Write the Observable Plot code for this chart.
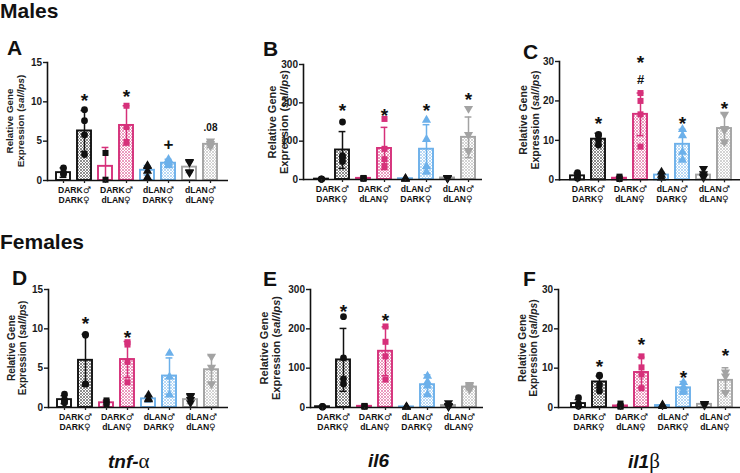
<!DOCTYPE html>
<html><head><meta charset="utf-8">
<script src="https://cdn.jsdelivr.net/npm/d3@7"></script>
<script src="https://cdn.jsdelivr.net/npm/@observablehq/plot@0.6"></script>
<style>
@font-face{font-family:"SexSym";src:local("DejaVu Sans");font-weight:bold;unicode-range:U+2640,U+2642;}
@font-face{font-family:"SexSym";src:local("DejaVu Sans");font-weight:normal;unicode-range:U+2640,U+2642;}
body{margin:0;background:#fff;font-family:"Liberation Sans",Arial,sans-serif;}
#root{position:relative;width:740px;height:473px;overflow:hidden;background:#fff;}
.abs{position:absolute;white-space:nowrap;line-height:1;}
.big{font-weight:bold;font-size:21px;color:#111;}
.gene{font-weight:bold;font-style:italic;font-size:19px;color:#111;}
.greek{font-family:"Liberation Serif","DejaVu Serif",serif;font-style:normal;font-weight:normal;font-size:21px;}
.ylab{position:absolute;white-space:nowrap;text-align:center;font-weight:bold;line-height:1.1;color:#222;transform:translate(-50%,-50%) rotate(-90deg);}
</style></head>
<body><div id="root"></div>
<script>
// ---------- categories ----------
const groups = ["DD", "Dd", "dD", "dd"];
const sireLabels = ["DARK♂", "DARK♂", "dLAN♂", "dLAN♂"];
const damLabels = ["DARK♀", "dLAN♀", "DARK♀", "dLAN♀"];
const treatments = ["sal", "lps"];
const groupColors = ["#111111", "#d6307a", "#6cb0ea", "#a3a3a3"];
const groupSymbols = ["circle", "square", "triangle", "triangle"];
const groupRotate = [0, 0, 0, 180];

// ---------- A: tnf-α males ----------
const aTicks = [0, 5, 10, 15];
const aMeans = [1.0, 6.3, 1.8, 7.0, 1.3, 2.2, 1.7, 4.6];
const aSD = [0.6, 2.6, 2.4, 2.5, 0.6, 0.5, 0.7, 0.4];
const aPoints = [[1.6, 0.8, 1.0], [9.0, 7.6, 5.8, 3.3], [3.5, 0.1], [9.5, 6.8, 4.9],
  [1.8, 1.9, 1.2, 0.4], [2.7, 2.3, 2.0, 1.9], [2.4, 2.3, 1.1, 1.0], [5.0, 4.7, 4.5, 4.4]];
const aSigBar = [1, 3, 5, 7];
const aSigText = ["*", "*", "+", ".08"];
const aSigY = [10.8, 11.2, 4.6, 6.7];

// ---------- B: il6 males ----------
const bTicks = [0, 100, 200, 300];
const bMeans = [1, 77, 3, 81, 2, 79, 4, 110];
const bSD = [1, 48, 2, 55, 1, 64, 2, 53];
const bPoints = [[1, 0.5, 1.5, 1], [150, 62, 47, 57], [3, 2, 4], [158, 80, 53, 35],
  [2, 1, 3], [155, 105, 34, 20], [4, 5, 3], [185, 117, 75, 75]];
const bSigBar = [1, 3, 5, 7];
const bSigText = ["*", "*", "*", "*"];
const bSigY = [191, 180, 191, 220];

// ---------- C: il1β males ----------
const cTicks = [0, 10, 20, 30];
const cMeans = [1.0, 10.3, 0.4, 16.6, 1.2, 9.0, 1.2, 13.0];
const cSD = [0.7, 1.5, 0.3, 5.4, 0.8, 3.8, 0.9, 3.8];
const cPoints = [[1.8, 1.2, 0.5, 0.4], [11.5, 11.2, 10.0, 8.8], [0.8, 0.4, 0.2], [22.0, 20.0, 16.6, 8.4],
  [2.0, 1.2, 0.5], [12.8, 11.2, 7.0, 5.0], [2.8, 1.5, 0.9, 0.6], [16.6, 13.0, 12.6, 9.6]];
const cSigBar = [1, 3, 3, 5, 7];
const cSigText = ["*", "#", "*", "*", "*"];
const cSigY = [15.4, 25.3, 30.8, 15.4, 19.2];

// ---------- D: tnf-α females ----------
const dTicks = [0, 5, 10, 15];
const dMeans = [1.0, 6.0, 0.6, 6.1, 1.1, 4.0, 1.0, 4.8];
const dSD = [0.5, 3.3, 0.3, 2.3, 0.4, 2.3, 0.5, 1.8];
const dPoints = [[1.7, 1.0, 0.8, 0.6], [9.3, 9.2, 3.0, 3.0], [0.9, 0.7, 0.4], [8.3, 8.0, 5.8, 3.2],
  [1.6, 1.1, 1.0], [6.9, 3.9, 1.6], [1.5, 1.4, 1.0, 0.6], [6.5, 5.1, 3.0]];
const dSigBar = [1, 3];
const dSigText = ["*", "*"];
const dSigY = [11.2, 9.5];

// ---------- E: il6 females ----------
const eTicks = [0, 100, 200, 300];
const eMeans = [2, 121, 3, 143, 1.5, 58, 5, 52];
const eSD = [1.5, 80, 2, 62, 1, 25, 6, 6];
const ePoints = [[3, 2, 1.5, 1], [231, 126, 73, 60], [3, 2, 4], [206, 167, 130, 71],
  [2, 1, 1.5], [80, 65, 55, 33], [12, 5, 3, 2], [58, 55, 50, 46]];
const eSigBar = [1, 3];
const eSigText = ["*", "*"];
const eSigY = [256, 234];

// ---------- F: il1β females ----------
const fTicks = [0, 10, 20, 30];
const fMeans = [1.0, 6.5, 0.4, 8.9, 0.5, 5.0, 0.8, 6.9];
const fSD = [1.0, 1.5, 0.3, 3.9, 0.2, 1.6, 0.3, 3.2];
const fPoints = [[2.5, 1.0, 0.5, 0.3], [8.2, 8.0, 5.8, 4.2], [1.0, 0.4, 0.2], [13.0, 10.2, 8.4, 4.9],
  [0.7, 0.5, 0.3], [6.4, 5.2, 4.4, 4.0], [1.0, 0.9, 0.6], [9.0, 8.0, 3.8]];
const fSigBar = [1, 3, 5, 7];
const fSigText = ["*", "*", "*", "*"];
const fSigY = [11.7, 17.3, 8.7, 14.5];

// ---------- layout (pixels) ----------
const layouts = [
  {id: "A", left: 0, top: 35, width: 232, height: 180, ml: 47, mr: 4, mt: 27, mb: 35, il: 2.6, ir: 4.8, labDx: -31, labSize: 9.8},
  {id: "B", left: 250, top: 35, width: 236, height: 180, ml: 53, mr: 4, mt: 29, mb: 36, il: 6.4, ir: 3, labDx: -25, labSize: 11},
  {id: "C", left: 490, top: 35, width: 250, height: 180, ml: 69, mr: 0, mt: 26, mb: 35.7, il: 6.3, ir: 3.5, labDx: -29, labSize: 10.5},
  {id: "D", left: 0, top: 265, width: 232, height: 180, ml: 48, mr: 4, mt: 24, mb: 38, il: 2.9, ir: 4.3, labDx: -31, labSize: 10},
  {id: "E", left: 250, top: 265, width: 240, height: 180, ml: 60, mr: 7, mt: 24, mb: 38, il: 0, ir: 2.3, labDx: -40, labSize: 11},
  {id: "F", left: 490, top: 265, width: 250, height: 180, ml: 68, mr: 0, mt: 24, mb: 38, il: 7, ir: 2, labDx: -30, labSize: 10.3}
];
const panelData = [
  [aTicks, aMeans, aSD, aPoints, aSigBar, aSigText, aSigY],
  [bTicks, bMeans, bSD, bPoints, bSigBar, bSigText, bSigY],
  [cTicks, cMeans, cSD, cPoints, cSigBar, cSigText, cSigY],
  [dTicks, dMeans, dSD, dPoints, dSigBar, dSigText, dSigY],
  [eTicks, eMeans, eSD, ePoints, eSigBar, eSigText, eSigY],
  [fTicks, fMeans, fSD, fPoints, fSigBar, fSigText, fSigY]
];
const sigStyle = {"*": {size: 19, dy: 5}, "#": {size: 13, dy: 0}, "+": {size: 17, dy: 0}, ".08": {size: 10, dy: 0}};

const keys = groups.flatMap(g => treatments.map(t => g + "|" + t));

// hatch patterns (shared defs)
const defs = d3.select("body").append("svg").attr("width", 0).attr("height", 0)
  .style("position", "absolute").append("defs");
groupColors.forEach((c, i) => {
  const p = defs.append("pattern").attr("id", "hatch" + i).attr("width", 3).attr("height", 3)
    .attr("patternUnits", "userSpaceOnUse");
  p.append("rect").attr("width", 3).attr("height", 3).attr("fill", "white");
  p.append("path").attr("d", "M0,0L3,3M3,0L0,3").attr("stroke", c).attr("stroke-width", 0.8).attr("opacity", 0.6);
});

const root = document.getElementById("root");

function addDiv(html, cls, left, top, extra) {
  const d = document.createElement("div");
  d.className = cls;
  d.innerHTML = html;
  d.style.left = left + "px";
  d.style.top = top + "px";
  if (extra) Object.assign(d.style, extra);
  root.appendChild(d);
  return d;
}

const fontStack = "SexSym, Liberation Sans, Arial, sans-serif";

layouts.forEach((L, pi) => {
  const [ticks, means, sds, points, sigBar, sigText, sigY] = panelData[pi];
  const bars = keys.map((k, i) => ({key: k, gi: Math.floor(i / 2), treat: treatments[i % 2], mean: means[i], sd: sds[i]}));
  const pts = bars.flatMap((b, i) => points[i].map(v => ({key: b.key, gi: b.gi, treat: b.treat, v})));
  const sigs = sigBar.map((bi, j) => ({key: keys[bi], text: sigText[j], y: sigY[j]}));
  const pairs = groups.map((g, gi) => ({key: g + "|sal", label: sireLabels[gi] + "\n" + damLabels[gi]}));
  const step = (L.width - L.ml - L.mr - L.il - L.ir) / keys.length;

  const sigMarks = Object.keys(sigStyle).map(s => Plot.text(sigs.filter(d => d.text === s), {
    x: "key", y: "y", text: "text", fontSize: sigStyle[s].size, fontWeight: "bold", dy: sigStyle[s].dy, fill: "#111"
  }));

  const chart = Plot.plot({
    width: L.width, height: L.height,
    marginLeft: L.ml, marginRight: L.mr, marginTop: L.mt, marginBottom: L.mb,
    style: {fontFamily: fontStack, background: "transparent", overflow: "visible"},
    color: {type: "identity"},
    x: {domain: keys, paddingInner: 0.32, paddingOuter: 0.16, insetLeft: L.il, insetRight: L.ir},
    y: {domain: [0, ticks[ticks.length - 1]]},
    marks: [
      Plot.barY(bars, {x: "key", y: "mean",
        fill: d => d.treat === "sal" ? "white" : `url(#hatch${d.gi})`,
        stroke: d => groupColors[d.gi], strokeWidth: 1.9}),
      Plot.ruleX(bars, {x: "key", y1: d => Math.max(0, d.mean - d.sd), y2: d => d.mean + d.sd,
        stroke: d => groupColors[d.gi], strokeWidth: 1.5}),
      Plot.tickY(bars, {x: "key", y: d => d.mean + d.sd, stroke: d => groupColors[d.gi], strokeWidth: 1.5, inset: 3.6}),
      Plot.tickY(bars.filter(d => d.mean - d.sd > 0), {x: "key", y: d => d.mean - d.sd,
        stroke: d => groupColors[d.gi], strokeWidth: 1.5, inset: 3.6}),
      Plot.dot(pts, {x: "key", y: "v", symbol: d => groupSymbols[d.gi], rotate: d => groupRotate[d.gi],
        fill: d => d.treat === "sal" ? "#111" : groupColors[d.gi], r: 3.4, stroke: "none"}),
      ...sigMarks,
      Plot.frame({anchor: "left", stroke: "#111", strokeWidth: 1.6}),
      Plot.ruleY([0], {stroke: "#111", strokeWidth: 1.6}),
      Plot.axisY({ticks: ticks, tickSize: 4, tickPadding: 1.5, fontSize: 10, fontWeight: "bold",
        label: null, color: "#1a1a1a", strokeWidth: 1.4}),
      Plot.axisX({tickSize: 3, tickFormat: () => "", label: null, strokeWidth: 1.3, color: "#222"}),
      Plot.text(pairs, {x: "key", text: "label", frameAnchor: "bottom", lineAnchor: "top",
        dy: 5, dx: step / 2, fontSize: 8.6, fontWeight: "bold", lineHeight: 1.18, fill: "#111",
        fontFamily: fontStack})
    ]
  });
  const holder = document.createElement("div");
  holder.style.position = "absolute";
  holder.style.left = L.left + "px";
  holder.style.top = L.top + "px";
  holder.appendChild(chart);
  root.appendChild(holder);

  // y-axis title
  const cy = L.top + L.mt + (L.height - L.mt - L.mb) / 2;
  const cx = L.left + L.ml + L.labDx;
  addDiv("Relative Gene<br>Expression (<i>sal/lps</i>)", "ylab", cx, cy, {fontSize: L.labSize + "px"});
});

// headings & panel letters
addDiv("Males", "abs big", 0, 0);
addDiv("Females", "abs big", 0, 231);
const letterPos = [[7, 37], [263, 38], [523, 41], [12, 267], [263, 268], [523, 268]];
layouts.forEach((L, i) => addDiv(L.id, "abs big", letterPos[i][0], letterPos[i][1]));
addDiv('tnf-<span class="greek">α</span>', "abs gene", 108, 451);
addDiv('il6', "abs gene", 368, 451);
addDiv('il1<span class="greek">β</span>', "abs gene", 628, 451);
</script>
</body></html>
